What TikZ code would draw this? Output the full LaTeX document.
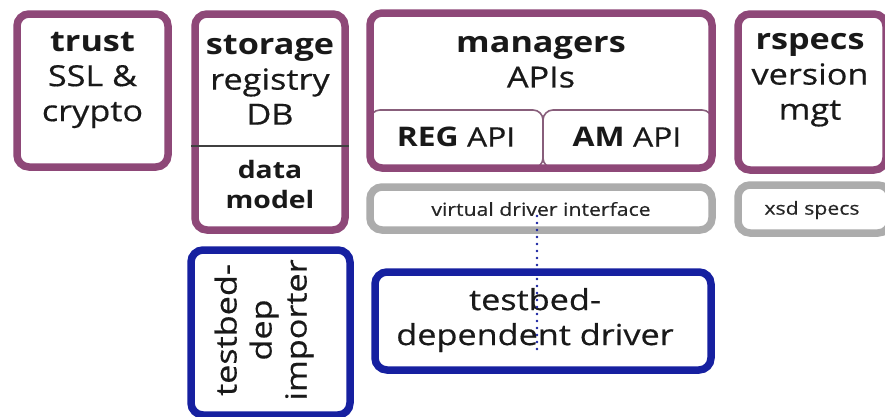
\documentclass[tikz,border=0pt]{standalone}
\usepackage{fontspec}
\setmainfont{Open Sans}[FakeStretch=1.18,UprightFeatures={FakeBold=0.5}]
\definecolor{plum}{RGB}{142,72,120}
\definecolor{lgray}{RGB}{172,172,172}
\definecolor{dblue}{RGB}{22,32,160}
\begin{document}
\begin{tikzpicture}[x=1pt,y=-1pt,
  box/.style={draw=#1,line width=7.5pt,rounded corners=12pt,inner sep=0pt},
  sub/.style={draw=plum!60!gray,line width=1.6pt,rounded corners=10pt,inner sep=0pt},
  big/.style={font=\fontsize{29}{35}\selectfont,align=center,inner sep=0pt,text=black!90},
  mid/.style={font=\fontsize{24}{30}\selectfont,align=center,inner sep=0pt,text=black!90},
  api/.style={font=\fontsize{27}{32}\selectfont,inner sep=0pt,text=black!90},
  small/.style={font=\fontsize{18}{22}\selectfont,inner sep=0pt,text=black!85}]
\useasboundingbox (0,0) rectangle (885,416);
\fill[white] (0,0) rectangle (885,416);
\begin{scope}
\clip (0,0) rectangle (885,416);
% sub boxes of managers
\node[sub,minimum width=173pt,minimum height=58pt] (reg) at (456.5,139) {};
\node[sub,minimum width=169pt,minimum height=58pt] (am) at (627.5,139) {};
% boxes
\node[box=plum,minimum width=151pt,minimum height=153pt] (trust) at (92.5,90.5) {};
\node[box=plum,minimum width=150pt,minimum height=216pt] (storage) at (270,122) {};
\node[box=plum,minimum width=342pt,minimum height=155pt] (managers) at (541,90.5) {};
\node[box=plum,minimum width=148pt,minimum height=156pt] (rspecs) at (812,92) {};
\node[box=lgray,minimum width=342pt,minimum height=43pt] (vdi) at (541,208.5) {};
\node[box=lgray,minimum width=152pt,minimum height=48pt] (xsd) at (814,209) {};
\node[box=dblue,minimum width=159pt,minimum height=165pt] (imp) at (270.5,332.5) {};
\node[box=dblue,minimum width=336pt,minimum height=98pt] (drv) at (543,321) {};
\draw[line width=1.2pt,black!75] (storage.west |- 0,146) coordinate (sdl) -- (storage.east |- 0,146) coordinate (sdr);
\end{scope}
% texts
\node[big] (ttrust) at (92.5,80) {\textbf{trust}\\SSL \&\\crypto};
\node[big] (tstorage) at (270,80) {\textbf{storage}\\registry\\DB};
\node[mid] (tdata) at (270,184) {\textbf{data}\\\textbf{model}};
\node[big] (tman) at (541,62) {\textbf{managers}\\APIs};
\node[api] (treg) at (456,137) {\textbf{REG} API};
\node[api] (tam) at (627,137) {\textbf{AM} API};
\node[small] (tvdi) at (541,209) {virtual driver interface};
\node[big] (trspecs) at (810,80) {\textbf{rspecs}\\version\\mgt};
\node[small] (txsd) at (812,210) {xsd specs};
\node[big,rotate=90] (timp) at (264,330) {testbed-\\dep\\importer};
\node[big] (tdrv) at (535,320) {testbed-\\dependent driver};
% dotted connector
\coordinate (dtop) at (537,216);
\coordinate (dbot) at (537,352);
\draw[dblue,line width=2.6pt,line cap=round,dash pattern=on 0pt off 7pt] (dtop) -- (dbot);
\end{tikzpicture}
\end{document}
